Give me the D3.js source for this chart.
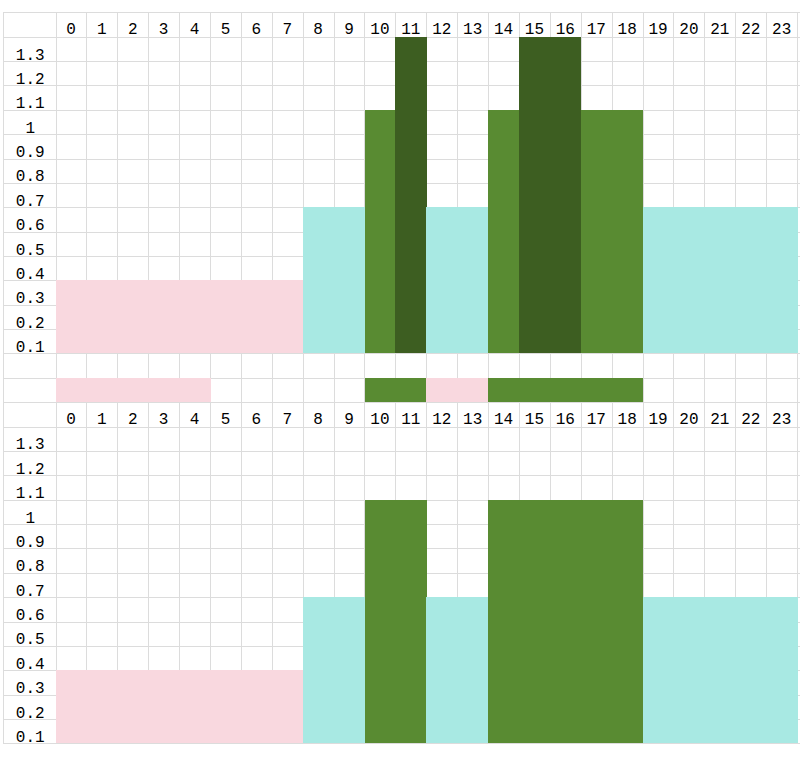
<!DOCTYPE html>
<html>
<head>
<meta charset="utf-8">
<script src="https://cdn.jsdelivr.net/npm/d3@7/dist/d3.min.js"></script>
<style>
  body { margin: 0; background: #fff; }
  .grid line { stroke: #dcdcdc; stroke-width: 1px; shape-rendering: crispEdges; }
  .lbl { font-family: "Liberation Mono", "DejaVu Sans Mono", monospace; font-size: 16px; fill: #000; }
</style>
</head>
<body>
<svg id="chart" width="800" height="758"></svg>
<script>
// hours along the top, value rows down the side
const hours = [0, 1, 2, 3, 4, 5, 6, 7, 8, 9, 10, 11, 12, 13, 14, 15, 16, 17, 18, 19, 20, 21, 22, 23];
const rowLabels = ["1.3", "1.2", "1.1", "1", "0.9", "0.8", "0.7", "0.6", "0.5", "0.4", "0.3", "0.2", "0.1"];

// upper block: level per hour
const topValues = [0.3, 0.3, 0.3, 0.3, 0.3, 0.3, 0.3, 0.3, 0.6, 0.6, 1.0, 1.3,
                   0.6, 0.6, 1.0, 1.3, 1.3, 1.0, 1.0, 0.6, 0.6, 0.6, 0.6, 0.6];
// strip between the blocks (null = empty cell)
const stripValues = [0.3, 0.3, 0.3, 0.3, 0.3, null, null, null, null, null, 1.0, 1.0,
                     0.3, 0.3, 1.0, 1.0, 1.0, 1.0, 1.0, null, null, null, null, null];
// lower block
const bottomValues = [0.3, 0.3, 0.3, 0.3, 0.3, 0.3, 0.3, 0.3, 0.6, 0.6, 1.0, 1.0,
                      0.6, 0.6, 1.0, 1.0, 1.0, 1.0, 1.0, 0.6, 0.6, 0.6, 0.6, 0.6];

const levels = [0.3, 0.6, 1.0, 1.3];
const levelColors = ["#f9d8df", "#a8e9e3", "#598b32", "#3d5e21"];

const W = 800, H = 758;
const top0 = 12.3, rowH = 24.37, nRows = 30;
const left0 = 3, labelW = 52.5;

const svg = d3.select("#chart");
const color = d3.scaleOrdinal().domain(levels).range(levelColors);

const x = d3.scaleBand().domain(hours).range([left0 + labelW, left0 + labelW + 24 * 30.9]);
// whole sheet row index -> y
const row = d3.scaleLinear().domain([0, nRows]).range([top0, top0 + nRows * rowH]);

// blocks: header row, then 13 value rows
const blocks = [
  { head: 0, values: topValues },
  { head: 16, values: bottomValues }
];
blocks.forEach(b => {
  b.y = d3.scaleLinear().domain([0, 1.3]).range([row(b.head + 14), row(b.head + 1)]);
  b.band = d3.scaleBand().domain(rowLabels).range([row(b.head + 1), row(b.head + 14)]);
});

// grid
const grid = svg.append("g").attr("class", "grid");
grid.selectAll("line.h").data(d3.range(nRows + 1)).join("line")
  .attr("class", "h")
  .attr("x1", left0).attr("x2", W)
  .attr("y1", d => Math.round(row(d)) + 0.5).attr("y2", d => Math.round(row(d)) + 0.5);
grid.selectAll("line.v").data([left0, left0 + labelW].concat(hours.map(h => x(h) + x.bandwidth()))).join("line")
  .attr("class", "v")
  .attr("y1", row(0)).attr("y2", row(nRows))
  .attr("x1", d => Math.round(d) + 0.5).attr("x2", d => Math.round(d) + 0.5);

// filled cells
blocks.forEach(b => {
  svg.append("g").selectAll("rect").data(b.values.map((v, i) => ({ hour: hours[i], v }))).join("rect")
    .attr("x", d => x(d.hour))
    .attr("width", x.bandwidth() + 0.6)
    .attr("y", d => b.y(d.v))
    .attr("height", d => b.y(0) - b.y(d.v))
    .attr("fill", d => color(d.v))
    .attr("shape-rendering", "crispEdges");
});

const strip = stripValues.map((v, i) => ({ hour: hours[i], v })).filter(d => d.v !== null);
svg.append("g").selectAll("rect").data(strip).join("rect")
  .attr("x", d => x(d.hour))
  .attr("width", x.bandwidth() + 0.6)
  .attr("y", row(15))
  .attr("height", rowH)
  .attr("fill", d => color(d.v))
  .attr("shape-rendering", "crispEdges");

// labels
blocks.forEach(b => {
  const xAxis = d3.axisTop(x).tickSize(0).tickPadding(0);
  svg.append("g")
    .attr("transform", `translate(0,${row(b.head + 1) - 2.5})`)
    .call(xAxis)
    .call(g => g.select(".domain").remove())
    .selectAll("text").attr("class", "lbl").attr("dy", 0);

  const yAxis = d3.axisLeft(b.band).tickSize(0).tickPadding(0);
  svg.append("g")
    .attr("transform", `translate(${left0 + labelW / 2 + 1},0)`)
    .call(yAxis)
    .call(g => g.select(".domain").remove())
    .selectAll("text")
      .attr("class", "lbl")
      .attr("text-anchor", "middle")
      .attr("dy", 0)
      .attr("y", b.band.bandwidth() / 2 - 1.5);
});
</script>
</body>
</html>
